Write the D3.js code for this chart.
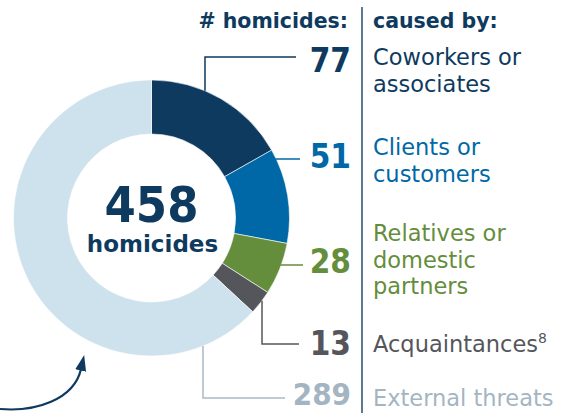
<!DOCTYPE html>
<html>
<head>
<meta charset="utf-8">
<script src="https://cdn.jsdelivr.net/npm/d3@7"></script>
<style>
  body { margin: 0; background: #fff; }
  svg { display: block; }
</style>
</head>
<body>
<div id="chart"></div>
<script>
// data
var categories = [["Coworkers or", "associates"], ["Clients or", "customers"],
                  ["Relatives or", "domestic", "partners"], ["Acquaintances"], ["External threats"]];
var values = [77, 51, 28, 13, 289];
var footnotes = ["", "", "", "8", ""];
var total = 458;
var colors = ["#0e3a60", "#0068a6", "#648d3c", "#55565c", "#cde2ec"];
var textColors = ["#0e3a60", "#0068a6", "#648d3c", "#55565c", "#a4b5c2"];
var lineColors = ["#0e3a60", "#0068a6", "#648d3c", "#55565c", "#a9bac6"];

// label layout: y of number baseline, y of first text line, elbow
var layout = [
  {num: 72,  text: 65,  kind: "v", x: 205, y: 57,  end: 296},
  {num: 168, text: 155, kind: "h", y: 159, end: 300},
  {num: 273, text: 241, kind: "h", y: 265, end: 303},
  {num: 355, text: 352, kind: "v", x: 262, y: 344, end: 299},
  {num: 405, text: 406, kind: "v", x: 203, y: 398, end: 285}
];

var W = 568, H = 413;
var cx = 151.5, cy = 218, rOut = 138, rIn = 84;
var font = "'DejaVu Sans', sans-serif";
var fontC = "'DejaVu Sans Condensed', 'DejaVu Sans', sans-serif";

var svg = d3.select("#chart").append("svg")
  .attr("width", W).attr("height", H);

var pie = d3.pie().sort(null).value(function(d) { return d; });
var arc = d3.arc().innerRadius(rIn).outerRadius(rOut);

var g = svg.append("g").attr("transform", "translate(" + cx + "," + cy + ")");
g.selectAll("path")
  .data(pie(values))
  .enter()
    .append("path")
    .attr("d", arc)
    .attr("fill", function(d, i) { return colors[i]; })
    .attr("stroke", "#fff")
    .attr("stroke-width", 0.6);

// center text
svg.append("text")
  .attr("x", cx).attr("y", 222)
  .attr("text-anchor", "middle")
  .attr("font-family", fontC).attr("font-weight", "bold")
  .attr("font-size", 50).attr("fill", "#0e3a60")
  .text(total);
svg.append("text")
  .attr("x", cx + 1).attr("y", 252)
  .attr("text-anchor", "middle")
  .attr("font-family", font).attr("font-weight", "bold")
  .attr("font-size", 23).attr("fill", "#0e3a60")
  .text("homicides");

// headers
svg.append("text")
  .attr("x", 348).attr("y", 28)
  .attr("text-anchor", "end")
  .attr("font-family", font).attr("font-weight", "bold")
  .attr("font-size", 20.5).attr("fill", "#0e3a60")
  .text("# homicides:");
svg.append("text")
  .attr("x", 373).attr("y", 28)
  .attr("font-family", font).attr("font-weight", "bold")
  .attr("font-size", 20.5).attr("fill", "#0e3a60")
  .text("caused by:");

// divider
svg.append("line")
  .attr("x1", 362).attr("x2", 362).attr("y1", 7).attr("y2", H)
  .attr("stroke", "#5d7890").attr("stroke-width", 2);

// leader lines from donut edge
function leader(L) {
  if (L.kind == "v") {
    var dx = L.x - cx;
    var ey = L.y < cy ? cy - Math.sqrt(rOut * rOut - dx * dx) : cy + Math.sqrt(rOut * rOut - dx * dx);
    return "M" + L.x + "," + ey + "V" + L.y + "H" + L.end;
  } else {
    var dy = L.y - cy;
    var ex = cx + Math.sqrt(rOut * rOut - dy * dy);
    return "M" + (ex - 1) + "," + L.y + "H" + L.end;
  }
}
svg.selectAll("path.leader")
  .data(layout)
  .enter()
    .append("path")
    .attr("class", "leader")
    .attr("d", leader)
    .attr("fill", "none")
    .attr("stroke", function(d, i) { return lineColors[i]; })
    .attr("stroke-width", 1.5);

// numbers
svg.selectAll("text.num")
  .data(values)
  .enter()
    .append("text")
    .attr("class", "num")
    .attr("x", 351)
    .attr("y", function(d, i) { return layout[i].num; })
    .attr("text-anchor", "end")
    .attr("font-family", fontC).attr("font-weight", "bold")
    .attr("font-size", function(d, i) { return i == 4 ? 31 : 33; })
    .attr("fill", function(d, i) { return textColors[i]; })
    .text(function(d) { return d; });

// category labels
var labels = svg.selectAll("text.cat")
  .data(categories)
  .enter()
    .append("text")
    .attr("class", "cat")
    .attr("font-family", font)
    .attr("font-size", 22.5)
    .attr("fill", function(d, i) { return textColors[i]; });
labels.each(function(d, i) {
  var t = d3.select(this);
  d.forEach(function(line, j) {
    t.append("tspan")
      .attr("x", 373)
      .attr("y", layout[i].text + j * 26.5)
      .text(line);
  });
  if (footnotes[i]) {
    t.append("tspan")
      .attr("dy", -9)
      .attr("font-size", 14)
      .text(footnotes[i]);
  }
});

// arrow pointing at the external threats slice
svg.append("defs").append("marker")
  .attr("id", "head")
  .attr("viewBox", "0 0 10 10")
  .attr("refX", 1).attr("refY", 5)
  .attr("markerUnits", "userSpaceOnUse")
  .attr("markerWidth", 16).attr("markerHeight", 11)
  .attr("preserveAspectRatio", "none")
  .attr("orient", "auto")
  .append("path")
    .attr("d", "M0,0L10,5L0,10Z")
    .attr("fill", "#0e3a60");
svg.append("path")
  .attr("d", "M0,409C35,412 74,400 81,369")
  .attr("fill", "none")
  .attr("stroke", "#0e3a60")
  .attr("stroke-width", 2.2)
  .attr("marker-end", "url(#head)");
</script>
</body>
</html>
